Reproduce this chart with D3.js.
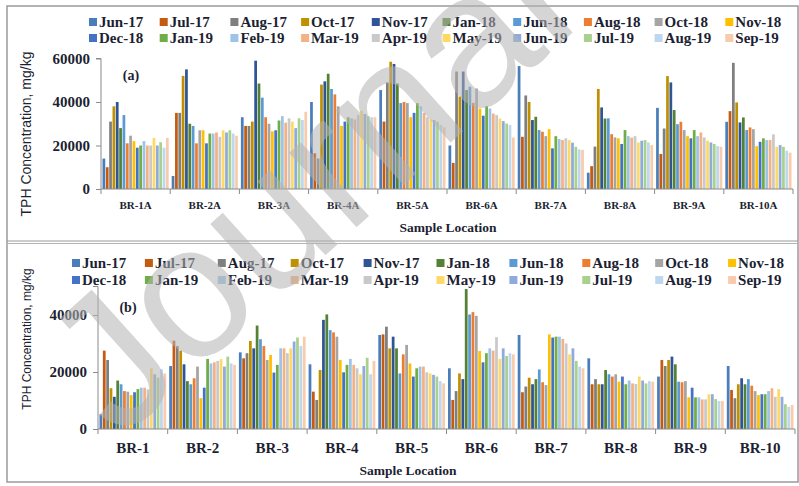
<!DOCTYPE html>
<html>
<head>
<meta charset="utf-8">
<script src="https://cdn.jsdelivr.net/npm/d3@7"></script>
<style>
  body { margin: 0; background: #fff; }
  svg text { font-family: "Liberation Serif", "Times New Roman", serif; font-weight: bold; fill: #1d1f33; }
</style>
</head>
<body>
<div id="chart"></div>
<script>
// sampling months (one bar per month in every group)
const months = ['Jun-17', 'Jul-17', 'Aug-17', 'Oct-17', 'Nov-17', 'Jan-18', 'Jun-18', 'Aug-18', 'Oct-18', 'Nov-18',
  'Dec-18', 'Jan-19', 'Feb-19', 'Mar-19', 'Apr-19', 'May-19', 'Jun-19', 'Jul-19', 'Aug-19', 'Sep-19'];
const colors = ['#4a7ebb', '#c55a11', '#7f7f7f', '#bf9000', '#2f5597', '#548235', '#5b9bd5', '#ed7d31', '#a5a5a5', '#ffc000',
  '#4472c4', '#70ad47', '#9dc3e6', '#f4b183', '#c9c9c9', '#ffd966', '#8faadc', '#a9d18e', '#bdd7ee', '#f8cbad'];

// panel (a)
const sitesA = ['BR-1A', 'BR-2A', 'BR-3A', 'BR-4A', 'BR-5A', 'BR-6A', 'BR-7A', 'BR-8A', 'BR-9A', 'BR-10A'];
const ticksA = [0, 20000, 40000, 60000];
const br1a = [14000, 10000, 31000, 38000, 40000, 28000, 34000, 21000, 24500, 22000, 19000, 20000, 22000, 20000, 20000, 23500, 20000, 21500, 19000, 23500];
const br2a = [6000, 35000, 35000, 52000, 55000, 30000, 29000, 21000, 27000, 27000, 21000, 25500, 25500, 26000, 24000, 27000, 26000, 27000, 25500, 24500];
const br3a = [33000, 29000, 29000, 31000, 59000, 48500, 42000, 33000, 30000, 26500, 27000, 31500, 33500, 30500, 32500, 31000, 28000, 32500, 31700, 35500];
const br4a = [40000, 16500, 14000, 48000, 49500, 53000, 46000, 43500, 38000, 29000, 31000, 33000, 32500, 32000, 34000, 36000, 34500, 33500, 33000, 33000];
const br5a = [45500, 31000, 49000, 58500, 57500, 48500, 39500, 40000, 39500, 33000, 35000, 39500, 38000, 35000, 33000, 32000, 31700, 31000, 29400, 28300];
const br6a = [20000, 12000, 54000, 42500, 54000, 45500, 47000, 39600, 46200, 37000, 33700, 38100, 37000, 34700, 34000, 32400, 31200, 30100, 29400, 23700];
const br7a = [56500, 24000, 43000, 40000, 31700, 33200, 27100, 26300, 24300, 27500, 18700, 24300, 23000, 22500, 23300, 22500, 21300, 19400, 18200, 18000];
const br8a = [7500, 10500, 19500, 46000, 37500, 32400, 32500, 25200, 23700, 23300, 20700, 27100, 24300, 23600, 24300, 21400, 22200, 22500, 21400, 20200];
const br9a = [37300, 16100, 27800, 51900, 49000, 36300, 29800, 30900, 27100, 24300, 23300, 27100, 24300, 26000, 23700, 22200, 21400, 20700, 19700, 19400];
const br10a = [30900, 35800, 58000, 39800, 30600, 32900, 27100, 28300, 27500, 19700, 21700, 23300, 22500, 22500, 25100, 19400, 20200, 19400, 17600, 16700];

// panel (b)
const sitesB = ['BR-1', 'BR-2', 'BR-3', 'BR-4', 'BR-5', 'BR-6', 'BR-7', 'BR-8', 'BR-9', 'BR-10'];
const ticksB = [0, 20000, 40000];
const br1 = [5200, 27500, 24200, 14300, 11300, 17000, 15700, 13300, 13100, 11900, 12900, 14000, 14500, 14500, 13900, 21300, 19200, 18000, 21000, 19500];
const br2 = [22100, 31000, 29100, 27500, 22700, 16800, 15700, 17800, 21900, 10800, 14500, 24600, 23000, 23400, 23900, 24500, 21900, 25400, 23000, 22500];
const br3 = [26900, 24800, 26600, 30900, 28300, 36300, 31500, 29100, 24200, 26000, 19800, 22500, 28300, 28300, 26600, 28300, 30700, 32100, 29100, 32400];
const br4 = [22700, 13100, 10200, 20700, 38300, 40200, 34700, 33900, 32400, 24200, 19900, 22500, 24600, 22500, 21300, 19200, 22100, 25000, 19200, 23900];
const br5 = [33000, 33200, 35900, 28300, 32400, 28300, 19500, 26200, 29500, 23000, 18400, 21300, 21900, 21900, 19900, 19500, 19000, 18400, 16800, 16000];
const br6 = [21300, 10200, 13300, 19500, 17500, 49100, 40200, 41000, 39700, 27400, 23400, 26600, 28300, 27500, 32200, 24600, 28300, 25600, 26600, 26200];
const br7 = [33000, 12900, 14900, 18000, 15700, 17500, 20900, 16400, 15400, 33200, 32100, 32400, 32400, 31600, 30000, 26200, 28300, 23900, 21900, 21300];
const br8 = [24800, 15700, 17500, 15700, 15700, 20700, 19200, 18400, 19200, 16600, 18400, 15700, 17000, 16000, 15800, 18400, 17000, 16000, 16800, 16600];
const br9 = [18400, 24200, 22100, 24200, 25400, 22700, 16600, 16400, 16800, 11100, 14500, 11100, 11100, 10400, 10400, 12200, 12200, 10500, 9800, 9800];
const br10 = [22100, 13700, 10800, 15700, 17800, 15700, 17500, 15200, 13300, 11900, 12200, 12200, 13300, 14300, 11300, 14000, 11300, 8700, 7800, 8400];

const valuesA = [br1a, br2a, br3a, br4a, br5a, br6a, br7a, br8a, br9a, br10a];
const valuesB = [br1, br2, br3, br4, br5, br6, br7, br8, br9, br10];

const width = 799, height = 486;
const svg = d3.select('#chart').append('svg')
  .attr('width', width)
  .attr('height', height);

// outer frame + separator between the two figures
svg.append('rect')
  .attr('x', 7).attr('y', 6).attr('width', 791).attr('height', 476)
  .attr('fill', 'none').attr('stroke', '#9a9a9a').attr('stroke-width', 1.5);
svg.append('line').attr('x1', 7).attr('x2', 798).attr('y1', 241).attr('y2', 241)
  .attr('stroke', '#9a9a9a').attr('stroke-width', 1.2);
svg.append('line').attr('x1', 7).attr('x2', 798).attr('y1', 243.5).attr('y2', 243.5)
  .attr('stroke', '#b5b5b5').attr('stroke-width', 1);

function drawPanel(p) {
  const g = svg.append('g');

  const x0 = d3.scaleBand().domain(p.sites).range([p.left, p.right]).padding(0);
  const x1 = d3.scaleBand().domain(months).range([1.5, x0.bandwidth() - 1.5]).paddingInner(0.18);
  const y = d3.scaleLinear().domain([0, p.max]).range([p.bottom, p.top]);

  // bars
  g.append('g').selectAll('g')
    .data(p.values)
    .join('g')
      .attr('transform', (d, i) => `translate(${x0(p.sites[i])},0)`)
    .selectAll('rect')
    .data(d => d.map((v, j) => ({ month: months[j], value: v, color: colors[j] })))
    .join('rect')
      .attr('x', d => x1(d.month))
      .attr('y', d => y(d.value))
      .attr('width', x1.bandwidth())
      .attr('height', d => p.bottom - y(d.value))
      .attr('fill', d => d.color);

  // y axis
  const yAxis = g.append('g')
    .attr('transform', `translate(${p.left},0)`)
    .call(d3.axisLeft(y).tickValues(p.ticks).tickSize(5).tickPadding(6).tickFormat(d3.format('d')));
  yAxis.select('.domain').attr('d', `M-5,${y(p.max)}H0V${p.bottom}`).attr('stroke', '#8a8a8a');
  yAxis.selectAll('.tick line').attr('stroke', '#8a8a8a');
  yAxis.selectAll('.tick text').style('font-size', p.tickFont + 'px').attr('fill', '#1d1f33');

  // x axis (group boundaries get tick marks)
  const xAxis = g.append('g').attr('transform', `translate(0,${p.bottom})`);
  xAxis.append('line').attr('x1', p.left).attr('x2', p.right).attr('stroke', '#8a8a8a');
  xAxis.selectAll('.sep')
    .data(p.sites.concat(['end']))
    .join('line')
      .attr('x1', (d, i) => i < p.sites.length ? x0(d) : p.right)
      .attr('x2', (d, i) => i < p.sites.length ? x0(d) : p.right)
      .attr('y1', 0).attr('y2', 5)
      .attr('stroke', '#8a8a8a');
  g.selectAll('.lbl')
    .data(p.sites)
    .join('text')
      .attr('x', d => x0(d) + x0.bandwidth() / 2)
      .attr('y', p.labelY)
      .attr('text-anchor', 'middle')
      .style('font-size', p.labelFont + 'px')
      .text(d => d);

  // axis titles
  g.append('text')
    .attr('x', p.xTitleX).attr('y', p.xTitleY)
    .attr('text-anchor', 'middle')
    .style('font-size', '13.5px')
    .text('Sample Location');
  g.append('text')
    .attr('transform', `translate(${p.yTitleX},${p.yTitleY}) rotate(-90)`)
    .attr('text-anchor', 'middle')
    .style('font-size', p.yTitleFont + 'px')
    .style('font-family', '"Liberation Sans", Arial, sans-serif')
    .style('font-weight', 'normal')
    .text('TPH Concentration, mg/kg');

  // panel letter
  g.append('text')
    .attr('x', p.tagX).attr('y', p.tagY)
    .attr('text-anchor', 'middle')
    .style('font-size', '14px')
    .text(p.tag);

  // legend, two rows of ten
  const leg = g.append('g').selectAll('g')
    .data(months)
    .join('g')
      .attr('transform', (d, i) => `translate(${p.legX + (i % 10) * p.legDx},${p.legY[Math.floor(i / 10)]})`);
  leg.append('rect')
    .attr('x', 0).attr('y', -4).attr('width', 8).attr('height', 8)
    .attr('fill', (d, i) => colors[i]);
  leg.append('text')
    .attr('x', 10).attr('y', 5)
    .style('font-size', '15px')
    .text(d => d);
}

drawPanel({
  sites: sitesA, values: valuesA, ticks: ticksA, max: 60000,
  left: 101, right: 793, top: 58.5, bottom: 189,
  tickFont: 15, labelFont: 11, labelY: 209,
  xTitleX: 448, xTitleY: 232,
  yTitleX: 31, yTitleY: 134, yTitleFont: 14,
  tag: '(a)', tagX: 131, tagY: 80,
  legX: 89, legDx: 70.7, legY: [22, 38]
});

drawPanel({
  sites: sitesB, values: valuesB, ticks: ticksB, max: 50000,
  left: 98, right: 795, top: 286.5, bottom: 429,
  tickFont: 15, labelFont: 15, labelY: 453,
  xTitleX: 408, xTitleY: 475,
  yTitleX: 31, yTitleY: 339, yTitleFont: 12,
  tag: '(b)', tagX: 128, tagY: 312,
  legX: 72, legDx: 72.9, legY: [263, 280]
});

// "Journal Pre-proof" watermark laid over the figure
svg.append('text')
  .attr('transform', 'translate(119,441) rotate(-42)')
  .style('font-family', '"Liberation Sans", Arial, sans-serif')
  .style('font-weight', 'normal')
  .style('font-size', '190px')
  .style('fill', '#b4b4b4')
  .style('opacity', 0.55)
  .text('Journal Pre-proof');
</script>
</body>
</html>
